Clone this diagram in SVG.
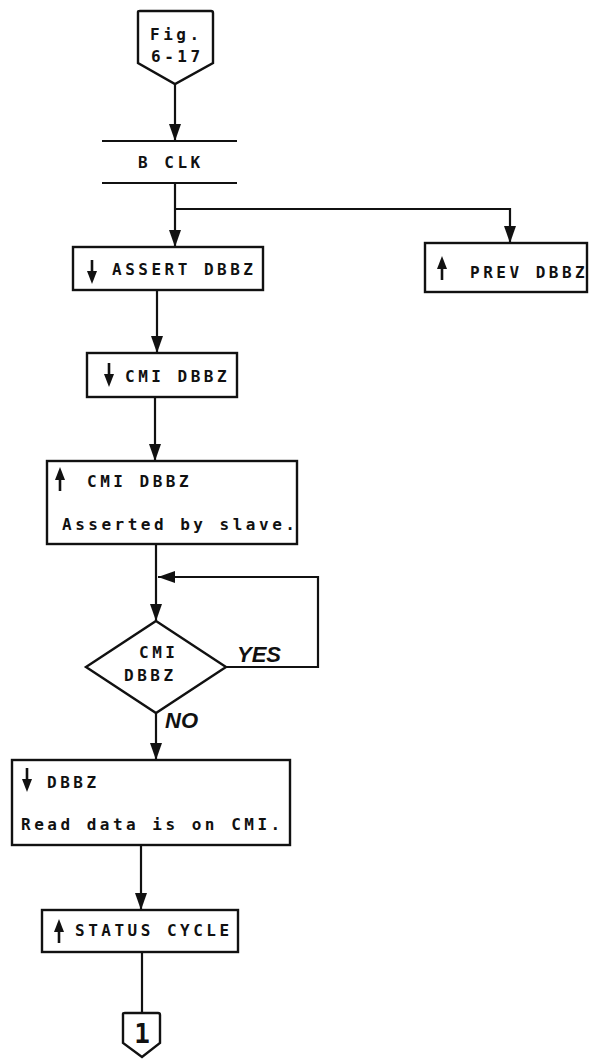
<svg xmlns="http://www.w3.org/2000/svg" width="605" height="1060" viewBox="0 0 605 1060">
<defs>
<style>
.ln{fill:none;stroke:#111;stroke-width:2.2}
.bx{fill:#fff;stroke:#111;stroke-width:2.4}
.t{font-family:"DejaVu Sans Mono","Liberation Mono",monospace;font-weight:bold;font-size:16px;letter-spacing:3.5px;fill:#111}
.h{font-family:"Liberation Sans",Arial,sans-serif;font-style:italic;font-weight:bold;font-size:22px;fill:#111}
</style>
<marker id="ah" markerUnits="userSpaceOnUse" markerWidth="18" markerHeight="13" refX="17" refY="6.5" orient="auto" viewBox="0 0 18 13"><path d="M0,0.5 L17,6.5 L0,12.5 z" fill="#111"/></marker>
<g id="dn"><path d="M0,0 V14" stroke="#111" stroke-width="2.6"/><path d="M-5,11 L5,11 L0,24 z" fill="#111"/></g>
<g id="up"><path d="M0,24 V10" stroke="#111" stroke-width="2.6"/><path d="M-5,13 L5,13 L0,0 z" fill="#111"/></g>
</defs>
<rect width="605" height="1060" fill="#fff"/>

<!-- connectors -->
<g id="connectors" class="ln">
<path d="M175,84 V141" marker-end="url(#ah)"/>
<path d="M175,183 V247" marker-end="url(#ah)"/>
<path d="M175,209 H510 V243" marker-end="url(#ah)"/>
<path d="M157,290 V353" marker-end="url(#ah)"/>
<path d="M155,397 V461" marker-end="url(#ah)"/>
<path d="M156,544 V621" marker-end="url(#ah)"/>
<path d="M226,667 H318 V577 H158" marker-end="url(#ah)"/>
<path d="M156,713 V760" marker-end="url(#ah)"/>
<path d="M141,845 V910" marker-end="url(#ah)"/>
<path d="M142,952 V1013"/>
</g>

<!-- entry connector -->
<g id="n-entry">
<path class="bx" d="M138,12 Q138,11 140,11 H211 Q213,11 213,13 V63 L175,84 L138,63 Z"/>
<text class="t" x="150" y="40">Fig.</text>
<text class="t" x="151" y="62">6-17</text>
</g>

<!-- clock bar -->
<g id="n-bclk">
<path class="ln" d="M102,141 H237 M102,183 H237" stroke-width="2.6"/>
<text class="t" x="138" y="168">B CLK</text>
</g>

<g id="n-assert">
<rect class="bx" x="73" y="247" width="190" height="43"/>
<use href="#dn" x="92" y="260"/>
<text class="t" x="112" y="275">ASSERT DBBZ</text>
</g>

<g id="n-prev">
<rect class="bx" x="425" y="243" width="162" height="49"/>
<use href="#up" x="442" y="256"/>
<text class="t" x="470" y="278">PREV DBBZ</text>
</g>

<g id="n-cmi-fall">
<rect class="bx" x="87" y="353" width="150" height="44"/>
<use href="#dn" x="109" y="363"/>
<text class="t" x="125" y="382">CMI DBBZ</text>
</g>

<g id="n-cmi-rise">
<rect class="bx" x="47" y="461" width="250" height="83"/>
<use href="#up" x="60" y="467"/>
<text class="t" x="87" y="487">CMI DBBZ</text>
<text class="t" x="62" y="530">Asserted by slave.</text>
</g>

<g id="n-test">
<path class="bx" d="M156,621 L226,667 L156,713 L86,667 Z"/>
<text class="t" x="139" y="658">CMI</text>
<text class="t" x="124" y="681">DBBZ</text>
<text class="h" x="237" y="662">YES</text>
<text class="h" x="165" y="728">NO</text>
</g>

<g id="n-dbbz">
<rect class="bx" x="12" y="760" width="278" height="85"/>
<use href="#dn" x="27" y="768"/>
<text class="t" x="47" y="788">DBBZ</text>
<text class="t" x="21" y="830">Read data is on CMI.</text>
</g>

<g id="n-status">
<rect class="bx" x="42" y="910" width="196" height="42"/>
<use href="#up" x="59" y="919"/>
<text class="t" x="75" y="936">STATUS CYCLE</text>
</g>

<g id="n-exit">
<path class="bx" d="M123,1014 Q123,1013 125,1013 H158 Q160,1013 160,1015 V1043 L142,1057 L123,1043 Z"/>
<text class="t" x="142" y="1043" text-anchor="middle" style="font-size:26px;letter-spacing:0">1</text>
</g>
</svg>
